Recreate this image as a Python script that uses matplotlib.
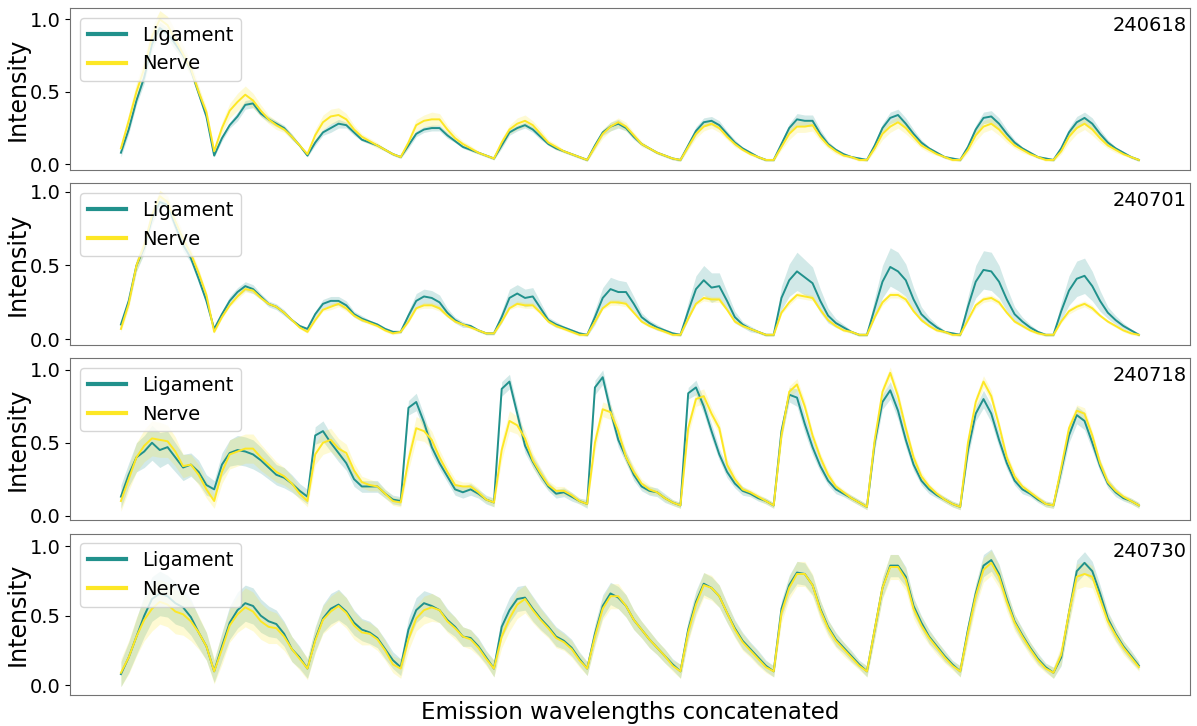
import numpy as np
import matplotlib.pyplot as plt
from matplotlib.lines import Line2D

# one row per excitation block, 12 emission samples each
samples = ["240618", "240701", "240718", "240730"]

lig_240618 = [
    [0.08, 0.24, 0.44, 0.60, 0.83, 0.94, 0.90, 0.83, 0.75, 0.65, 0.49, 0.33],
    [0.06, 0.18, 0.27, 0.33, 0.41, 0.42, 0.35, 0.31, 0.28, 0.25, 0.19, 0.13],
    [0.06, 0.15, 0.22, 0.25, 0.28, 0.27, 0.22, 0.17, 0.15, 0.13, 0.10, 0.07],
    [0.05, 0.13, 0.21, 0.24, 0.25, 0.25, 0.20, 0.16, 0.12, 0.10, 0.08, 0.06],
    [0.04, 0.13, 0.22, 0.25, 0.27, 0.24, 0.19, 0.14, 0.11, 0.09, 0.07, 0.05],
    [0.03, 0.13, 0.22, 0.26, 0.28, 0.25, 0.19, 0.14, 0.11, 0.08, 0.06, 0.04],
    [0.03, 0.13, 0.23, 0.29, 0.30, 0.27, 0.21, 0.15, 0.11, 0.08, 0.05, 0.03],
    [0.03, 0.14, 0.25, 0.31, 0.30, 0.30, 0.21, 0.14, 0.10, 0.07, 0.05, 0.04],
    [0.03, 0.13, 0.25, 0.32, 0.34, 0.28, 0.21, 0.15, 0.11, 0.08, 0.05, 0.04],
    [0.03, 0.12, 0.24, 0.32, 0.33, 0.28, 0.21, 0.15, 0.11, 0.08, 0.05, 0.04],
    [0.03, 0.11, 0.22, 0.29, 0.32, 0.28, 0.21, 0.15, 0.11, 0.08, 0.05, 0.03],
]
nerve_240618 = [
    [0.11, 0.30, 0.50, 0.66, 0.88, 1.00, 0.96, 0.86, 0.76, 0.66, 0.50, 0.36],
    [0.09, 0.25, 0.37, 0.43, 0.48, 0.44, 0.37, 0.31, 0.27, 0.24, 0.19, 0.13],
    [0.07, 0.20, 0.29, 0.33, 0.34, 0.31, 0.24, 0.19, 0.16, 0.13, 0.10, 0.07],
    [0.05, 0.15, 0.27, 0.30, 0.31, 0.31, 0.24, 0.18, 0.14, 0.11, 0.08, 0.06],
    [0.04, 0.15, 0.24, 0.28, 0.30, 0.27, 0.21, 0.15, 0.12, 0.09, 0.07, 0.05],
    [0.03, 0.12, 0.21, 0.26, 0.29, 0.26, 0.20, 0.14, 0.11, 0.08, 0.06, 0.04],
    [0.03, 0.12, 0.21, 0.26, 0.28, 0.25, 0.19, 0.14, 0.10, 0.07, 0.05, 0.03],
    [0.03, 0.12, 0.21, 0.26, 0.26, 0.27, 0.19, 0.13, 0.09, 0.06, 0.05, 0.03],
    [0.03, 0.11, 0.21, 0.26, 0.29, 0.25, 0.19, 0.13, 0.10, 0.07, 0.05, 0.03],
    [0.03, 0.10, 0.20, 0.26, 0.28, 0.24, 0.18, 0.13, 0.10, 0.07, 0.05, 0.03],
    [0.03, 0.09, 0.19, 0.25, 0.28, 0.24, 0.18, 0.13, 0.10, 0.07, 0.05, 0.03],
]
lig_sd_240618 = [
    [0.03, 0.03, 0.03, 0.04, 0.04, 0.04, 0.04, 0.04, 0.03, 0.03, 0.03, 0.03],
    [0.01, 0.02, 0.02, 0.03, 0.03, 0.03, 0.02, 0.02, 0.02, 0.02, 0.02, 0.01],
    [0.01, 0.02, 0.02, 0.03, 0.03, 0.02, 0.02, 0.01, 0.01, 0.01, 0.01, 0.01],
    [0.01, 0.02, 0.02, 0.02, 0.02, 0.02, 0.02, 0.01, 0.01, 0.01, 0.01, 0.01],
    [0.01, 0.02, 0.02, 0.02, 0.02, 0.02, 0.02, 0.01, 0.01, 0.01, 0.01, 0.01],
    [0.01, 0.02, 0.02, 0.03, 0.03, 0.02, 0.02, 0.01, 0.01, 0.01, 0.01, 0.01],
    [0.01, 0.02, 0.03, 0.03, 0.03, 0.03, 0.02, 0.02, 0.01, 0.01, 0.01, 0.01],
    [0.01, 0.02, 0.03, 0.04, 0.04, 0.04, 0.03, 0.02, 0.01, 0.01, 0.01, 0.01],
    [0.01, 0.02, 0.03, 0.04, 0.04, 0.04, 0.03, 0.02, 0.01, 0.01, 0.01, 0.01],
    [0.01, 0.02, 0.03, 0.04, 0.04, 0.04, 0.03, 0.02, 0.01, 0.01, 0.01, 0.01],
    [0.01, 0.02, 0.03, 0.04, 0.04, 0.04, 0.03, 0.02, 0.01, 0.01, 0.01, 0.01],
]
nerve_sd_240618 = [
    [0.03, 0.05, 0.06, 0.07, 0.07, 0.06, 0.06, 0.06, 0.06, 0.05, 0.04, 0.03],
    [0.02, 0.04, 0.05, 0.06, 0.06, 0.05, 0.04, 0.03, 0.03, 0.02, 0.02, 0.01],
    [0.01, 0.04, 0.05, 0.05, 0.05, 0.04, 0.03, 0.02, 0.02, 0.02, 0.01, 0.01],
    [0.01, 0.03, 0.04, 0.04, 0.05, 0.04, 0.03, 0.03, 0.02, 0.02, 0.01, 0.01],
    [0.01, 0.03, 0.03, 0.04, 0.04, 0.03, 0.03, 0.02, 0.02, 0.01, 0.01, 0.01],
    [0.01, 0.02, 0.03, 0.03, 0.03, 0.03, 0.02, 0.02, 0.01, 0.01, 0.01, 0.01],
    [0.01, 0.02, 0.03, 0.03, 0.03, 0.03, 0.02, 0.02, 0.01, 0.01, 0.01, 0.01],
    [0.01, 0.02, 0.04, 0.04, 0.04, 0.04, 0.03, 0.02, 0.02, 0.01, 0.01, 0.01],
    [0.01, 0.02, 0.04, 0.04, 0.04, 0.04, 0.03, 0.02, 0.02, 0.01, 0.01, 0.01],
    [0.01, 0.02, 0.04, 0.04, 0.04, 0.04, 0.03, 0.02, 0.02, 0.01, 0.01, 0.01],
    [0.01, 0.02, 0.04, 0.04, 0.04, 0.04, 0.03, 0.02, 0.02, 0.01, 0.01, 0.01],
]

lig_240701 = [
    [0.10, 0.26, 0.50, 0.62, 0.82, 0.93, 0.91, 0.77, 0.64, 0.55, 0.41, 0.26],
    [0.07, 0.17, 0.26, 0.32, 0.36, 0.34, 0.29, 0.24, 0.22, 0.18, 0.13, 0.09],
    [0.07, 0.17, 0.24, 0.26, 0.26, 0.23, 0.17, 0.14, 0.12, 0.10, 0.07, 0.05],
    [0.05, 0.16, 0.26, 0.29, 0.28, 0.25, 0.18, 0.13, 0.10, 0.09, 0.06, 0.04],
    [0.04, 0.15, 0.28, 0.31, 0.28, 0.29, 0.21, 0.13, 0.10, 0.08, 0.06, 0.04],
    [0.03, 0.15, 0.28, 0.34, 0.32, 0.32, 0.24, 0.15, 0.11, 0.08, 0.06, 0.04],
    [0.03, 0.19, 0.34, 0.40, 0.35, 0.36, 0.26, 0.15, 0.10, 0.07, 0.05, 0.03],
    [0.03, 0.28, 0.40, 0.46, 0.42, 0.38, 0.26, 0.16, 0.11, 0.08, 0.05, 0.03],
    [0.03, 0.21, 0.39, 0.49, 0.46, 0.40, 0.27, 0.17, 0.12, 0.08, 0.05, 0.04],
    [0.03, 0.22, 0.39, 0.47, 0.46, 0.39, 0.27, 0.17, 0.12, 0.08, 0.05, 0.03],
    [0.03, 0.19, 0.33, 0.41, 0.43, 0.36, 0.26, 0.18, 0.13, 0.09, 0.06, 0.03],
]
nerve_240701 = [
    [0.07, 0.24, 0.50, 0.64, 0.84, 0.97, 0.93, 0.80, 0.68, 0.58, 0.45, 0.30],
    [0.05, 0.15, 0.23, 0.29, 0.34, 0.33, 0.28, 0.24, 0.22, 0.18, 0.13, 0.08],
    [0.05, 0.13, 0.20, 0.22, 0.24, 0.21, 0.16, 0.13, 0.11, 0.09, 0.06, 0.04],
    [0.05, 0.12, 0.21, 0.23, 0.23, 0.21, 0.16, 0.12, 0.10, 0.08, 0.06, 0.04],
    [0.04, 0.12, 0.21, 0.24, 0.23, 0.23, 0.18, 0.12, 0.09, 0.07, 0.05, 0.03],
    [0.03, 0.12, 0.21, 0.25, 0.25, 0.24, 0.18, 0.12, 0.09, 0.07, 0.05, 0.03],
    [0.03, 0.14, 0.24, 0.28, 0.27, 0.27, 0.20, 0.12, 0.09, 0.07, 0.05, 0.03],
    [0.03, 0.18, 0.25, 0.30, 0.29, 0.28, 0.20, 0.13, 0.09, 0.06, 0.05, 0.03],
    [0.03, 0.15, 0.25, 0.30, 0.30, 0.27, 0.19, 0.13, 0.09, 0.06, 0.05, 0.03],
    [0.03, 0.13, 0.23, 0.27, 0.28, 0.25, 0.18, 0.12, 0.09, 0.06, 0.04, 0.03],
    [0.03, 0.12, 0.19, 0.22, 0.24, 0.21, 0.16, 0.12, 0.09, 0.06, 0.04, 0.03],
]
lig_sd_240701 = [
    [0.02, 0.03, 0.04, 0.04, 0.04, 0.03, 0.04, 0.04, 0.04, 0.03, 0.03, 0.02],
    [0.01, 0.02, 0.03, 0.03, 0.03, 0.03, 0.02, 0.02, 0.02, 0.02, 0.01, 0.01],
    [0.01, 0.02, 0.03, 0.03, 0.03, 0.03, 0.02, 0.02, 0.01, 0.01, 0.01, 0.01],
    [0.01, 0.03, 0.05, 0.05, 0.05, 0.05, 0.03, 0.02, 0.02, 0.01, 0.01, 0.01],
    [0.01, 0.04, 0.06, 0.06, 0.06, 0.06, 0.04, 0.02, 0.02, 0.01, 0.01, 0.01],
    [0.01, 0.05, 0.07, 0.08, 0.08, 0.07, 0.05, 0.03, 0.02, 0.02, 0.01, 0.01],
    [0.01, 0.06, 0.09, 0.10, 0.10, 0.09, 0.06, 0.04, 0.02, 0.02, 0.01, 0.01],
    [0.01, 0.08, 0.11, 0.13, 0.12, 0.11, 0.08, 0.05, 0.03, 0.02, 0.01, 0.01],
    [0.01, 0.07, 0.11, 0.13, 0.13, 0.11, 0.08, 0.05, 0.03, 0.02, 0.01, 0.01],
    [0.01, 0.07, 0.11, 0.13, 0.13, 0.11, 0.08, 0.05, 0.03, 0.02, 0.01, 0.01],
    [0.01, 0.06, 0.10, 0.12, 0.12, 0.10, 0.07, 0.04, 0.03, 0.02, 0.01, 0.01],
]
nerve_sd_240701 = [
    [0.02, 0.03, 0.04, 0.04, 0.04, 0.04, 0.04, 0.04, 0.04, 0.03, 0.03, 0.02],
    [0.01, 0.01, 0.01, 0.02, 0.02, 0.02, 0.01, 0.01, 0.01, 0.01, 0.01, 0.01],
    [0.01, 0.01, 0.01, 0.02, 0.02, 0.02, 0.01, 0.01, 0.01, 0.01, 0.01, 0.01],
    [0.01, 0.01, 0.01, 0.02, 0.02, 0.02, 0.01, 0.01, 0.01, 0.01, 0.01, 0.01],
    [0.01, 0.01, 0.01, 0.02, 0.02, 0.02, 0.01, 0.01, 0.01, 0.01, 0.01, 0.01],
    [0.01, 0.01, 0.01, 0.02, 0.02, 0.02, 0.01, 0.01, 0.01, 0.01, 0.01, 0.01],
    [0.01, 0.01, 0.01, 0.02, 0.02, 0.02, 0.01, 0.01, 0.01, 0.01, 0.01, 0.01],
    [0.01, 0.01, 0.02, 0.02, 0.02, 0.02, 0.01, 0.01, 0.01, 0.01, 0.01, 0.01],
    [0.01, 0.01, 0.02, 0.02, 0.02, 0.02, 0.01, 0.01, 0.01, 0.01, 0.01, 0.01],
    [0.01, 0.01, 0.02, 0.02, 0.02, 0.02, 0.01, 0.01, 0.01, 0.01, 0.01, 0.01],
    [0.01, 0.01, 0.02, 0.02, 0.02, 0.02, 0.01, 0.01, 0.01, 0.01, 0.01, 0.01],
]

lig_240718 = [
    [0.13, 0.28, 0.40, 0.44, 0.50, 0.45, 0.47, 0.40, 0.33, 0.35, 0.30, 0.21],
    [0.18, 0.35, 0.43, 0.45, 0.44, 0.42, 0.38, 0.33, 0.28, 0.26, 0.22, 0.17],
    [0.13, 0.55, 0.58, 0.50, 0.43, 0.36, 0.25, 0.20, 0.20, 0.20, 0.15, 0.11],
    [0.10, 0.74, 0.78, 0.64, 0.47, 0.36, 0.27, 0.18, 0.16, 0.18, 0.15, 0.11],
    [0.09, 0.87, 0.92, 0.70, 0.48, 0.37, 0.28, 0.20, 0.15, 0.16, 0.13, 0.10],
    [0.08, 0.88, 0.95, 0.72, 0.52, 0.40, 0.28, 0.20, 0.17, 0.16, 0.12, 0.09],
    [0.07, 0.84, 0.88, 0.75, 0.58, 0.42, 0.30, 0.22, 0.17, 0.15, 0.12, 0.10],
    [0.07, 0.58, 0.83, 0.81, 0.63, 0.47, 0.34, 0.24, 0.18, 0.15, 0.12, 0.09],
    [0.06, 0.50, 0.78, 0.86, 0.72, 0.52, 0.35, 0.24, 0.18, 0.14, 0.11, 0.08],
    [0.06, 0.45, 0.70, 0.80, 0.70, 0.52, 0.36, 0.24, 0.18, 0.15, 0.11, 0.08],
    [0.07, 0.31, 0.55, 0.69, 0.65, 0.50, 0.34, 0.22, 0.16, 0.12, 0.10, 0.07],
]
nerve_240718 = [
    [0.10, 0.25, 0.40, 0.48, 0.53, 0.52, 0.51, 0.44, 0.34, 0.35, 0.28, 0.18],
    [0.10, 0.30, 0.42, 0.44, 0.46, 0.46, 0.40, 0.35, 0.30, 0.27, 0.22, 0.15],
    [0.10, 0.42, 0.50, 0.52, 0.46, 0.43, 0.31, 0.23, 0.21, 0.20, 0.15, 0.10],
    [0.09, 0.38, 0.60, 0.58, 0.52, 0.40, 0.30, 0.21, 0.20, 0.20, 0.16, 0.11],
    [0.09, 0.45, 0.65, 0.62, 0.53, 0.38, 0.29, 0.21, 0.17, 0.17, 0.14, 0.10],
    [0.08, 0.50, 0.73, 0.71, 0.58, 0.40, 0.30, 0.22, 0.18, 0.16, 0.12, 0.09],
    [0.07, 0.60, 0.80, 0.82, 0.70, 0.60, 0.35, 0.25, 0.18, 0.16, 0.13, 0.10],
    [0.07, 0.55, 0.85, 0.90, 0.75, 0.55, 0.40, 0.28, 0.20, 0.16, 0.12, 0.09],
    [0.06, 0.52, 0.85, 0.98, 0.82, 0.60, 0.40, 0.27, 0.20, 0.15, 0.11, 0.08],
    [0.06, 0.50, 0.78, 0.92, 0.82, 0.62, 0.40, 0.27, 0.20, 0.16, 0.12, 0.08],
    [0.07, 0.33, 0.60, 0.72, 0.70, 0.55, 0.36, 0.23, 0.17, 0.13, 0.10, 0.07],
]
lig_sd_240718 = [
    [0.08, 0.08, 0.10, 0.11, 0.12, 0.12, 0.11, 0.10, 0.09, 0.08, 0.08, 0.07],
    [0.06, 0.08, 0.09, 0.10, 0.10, 0.10, 0.09, 0.08, 0.07, 0.07, 0.06, 0.05],
    [0.05, 0.06, 0.07, 0.06, 0.06, 0.05, 0.05, 0.04, 0.04, 0.04, 0.03, 0.03],
    [0.03, 0.05, 0.06, 0.05, 0.05, 0.04, 0.04, 0.04, 0.04, 0.04, 0.03, 0.03],
    [0.03, 0.05, 0.05, 0.05, 0.05, 0.04, 0.04, 0.03, 0.03, 0.03, 0.03, 0.02],
    [0.03, 0.05, 0.05, 0.05, 0.05, 0.04, 0.04, 0.03, 0.03, 0.03, 0.03, 0.02],
    [0.02, 0.04, 0.05, 0.05, 0.05, 0.04, 0.04, 0.03, 0.03, 0.02, 0.02, 0.02],
    [0.02, 0.05, 0.05, 0.06, 0.06, 0.05, 0.04, 0.03, 0.03, 0.02, 0.02, 0.02],
    [0.02, 0.05, 0.05, 0.06, 0.06, 0.05, 0.04, 0.03, 0.03, 0.02, 0.02, 0.02],
    [0.02, 0.05, 0.05, 0.06, 0.06, 0.05, 0.04, 0.03, 0.03, 0.02, 0.02, 0.02],
    [0.02, 0.05, 0.05, 0.06, 0.06, 0.05, 0.04, 0.03, 0.03, 0.02, 0.02, 0.02],
]
nerve_sd_240718 = [
    [0.07, 0.08, 0.10, 0.11, 0.12, 0.12, 0.11, 0.10, 0.08, 0.07, 0.07, 0.06],
    [0.05, 0.08, 0.10, 0.10, 0.10, 0.10, 0.09, 0.08, 0.07, 0.06, 0.05, 0.04],
    [0.04, 0.07, 0.08, 0.08, 0.07, 0.06, 0.05, 0.04, 0.04, 0.03, 0.03, 0.03],
    [0.03, 0.07, 0.08, 0.07, 0.06, 0.05, 0.04, 0.04, 0.03, 0.03, 0.03, 0.02],
    [0.03, 0.07, 0.07, 0.06, 0.05, 0.05, 0.04, 0.03, 0.03, 0.03, 0.02, 0.02],
    [0.02, 0.06, 0.05, 0.05, 0.05, 0.04, 0.04, 0.03, 0.03, 0.02, 0.02, 0.02],
    [0.02, 0.05, 0.05, 0.05, 0.04, 0.04, 0.04, 0.03, 0.02, 0.02, 0.02, 0.02],
    [0.02, 0.04, 0.04, 0.04, 0.04, 0.03, 0.03, 0.03, 0.02, 0.02, 0.02, 0.02],
    [0.02, 0.04, 0.04, 0.04, 0.04, 0.03, 0.03, 0.03, 0.02, 0.02, 0.02, 0.02],
    [0.02, 0.04, 0.04, 0.04, 0.04, 0.03, 0.03, 0.03, 0.02, 0.02, 0.02, 0.02],
    [0.02, 0.04, 0.04, 0.04, 0.04, 0.03, 0.03, 0.03, 0.02, 0.02, 0.02, 0.02],
]

lig_240730 = [
    [0.08, 0.20, 0.35, 0.50, 0.62, 0.66, 0.64, 0.59, 0.56, 0.49, 0.38, 0.28],
    [0.10, 0.28, 0.45, 0.54, 0.59, 0.57, 0.50, 0.46, 0.44, 0.37, 0.26, 0.20],
    [0.12, 0.33, 0.48, 0.55, 0.58, 0.53, 0.45, 0.40, 0.38, 0.34, 0.26, 0.18],
    [0.13, 0.40, 0.54, 0.59, 0.57, 0.54, 0.47, 0.42, 0.35, 0.34, 0.28, 0.20],
    [0.12, 0.42, 0.54, 0.62, 0.63, 0.55, 0.48, 0.42, 0.35, 0.32, 0.27, 0.19],
    [0.12, 0.37, 0.57, 0.66, 0.63, 0.57, 0.47, 0.40, 0.33, 0.27, 0.21, 0.15],
    [0.10, 0.40, 0.60, 0.73, 0.70, 0.64, 0.52, 0.41, 0.32, 0.26, 0.20, 0.14],
    [0.10, 0.55, 0.72, 0.81, 0.80, 0.72, 0.55, 0.42, 0.33, 0.27, 0.21, 0.15],
    [0.10, 0.40, 0.70, 0.86, 0.86, 0.78, 0.57, 0.45, 0.35, 0.28, 0.21, 0.15],
    [0.10, 0.40, 0.66, 0.86, 0.90, 0.80, 0.62, 0.46, 0.36, 0.27, 0.19, 0.13],
    [0.09, 0.20, 0.52, 0.82, 0.88, 0.82, 0.66, 0.48, 0.37, 0.28, 0.21, 0.14],
]
nerve_240730 = [
    [0.09, 0.20, 0.35, 0.47, 0.55, 0.60, 0.58, 0.53, 0.51, 0.46, 0.38, 0.28],
    [0.10, 0.26, 0.43, 0.51, 0.56, 0.53, 0.46, 0.42, 0.41, 0.35, 0.26, 0.19],
    [0.12, 0.32, 0.47, 0.53, 0.57, 0.52, 0.43, 0.38, 0.37, 0.33, 0.25, 0.15],
    [0.12, 0.33, 0.48, 0.54, 0.56, 0.54, 0.46, 0.41, 0.35, 0.33, 0.27, 0.19],
    [0.12, 0.35, 0.48, 0.58, 0.62, 0.54, 0.47, 0.41, 0.34, 0.31, 0.26, 0.18],
    [0.12, 0.35, 0.55, 0.64, 0.64, 0.57, 0.47, 0.40, 0.33, 0.27, 0.21, 0.14],
    [0.10, 0.38, 0.58, 0.72, 0.70, 0.64, 0.52, 0.40, 0.31, 0.25, 0.19, 0.13],
    [0.10, 0.52, 0.70, 0.80, 0.80, 0.72, 0.54, 0.41, 0.32, 0.26, 0.20, 0.14],
    [0.10, 0.40, 0.70, 0.85, 0.85, 0.76, 0.55, 0.43, 0.34, 0.27, 0.20, 0.14],
    [0.10, 0.38, 0.64, 0.83, 0.88, 0.78, 0.60, 0.45, 0.35, 0.26, 0.18, 0.12],
    [0.09, 0.22, 0.52, 0.78, 0.80, 0.78, 0.62, 0.46, 0.36, 0.27, 0.20, 0.13],
]
lig_sd_240730 = [
    [0.09, 0.11, 0.13, 0.15, 0.16, 0.16, 0.15, 0.15, 0.14, 0.13, 0.11, 0.10],
    [0.08, 0.10, 0.12, 0.13, 0.13, 0.13, 0.12, 0.11, 0.10, 0.09, 0.09, 0.08],
    [0.07, 0.09, 0.10, 0.11, 0.11, 0.10, 0.09, 0.08, 0.08, 0.07, 0.07, 0.06],
    [0.06, 0.08, 0.09, 0.09, 0.09, 0.09, 0.08, 0.07, 0.07, 0.06, 0.06, 0.05],
    [0.06, 0.08, 0.09, 0.09, 0.09, 0.09, 0.08, 0.07, 0.07, 0.06, 0.06, 0.05],
    [0.05, 0.07, 0.08, 0.08, 0.08, 0.08, 0.07, 0.06, 0.06, 0.05, 0.05, 0.04],
    [0.05, 0.07, 0.08, 0.08, 0.08, 0.08, 0.07, 0.06, 0.06, 0.05, 0.05, 0.04],
    [0.04, 0.06, 0.07, 0.08, 0.08, 0.07, 0.06, 0.05, 0.05, 0.04, 0.04, 0.03],
    [0.04, 0.06, 0.07, 0.08, 0.08, 0.07, 0.06, 0.05, 0.05, 0.04, 0.04, 0.03],
    [0.04, 0.06, 0.07, 0.08, 0.08, 0.07, 0.06, 0.05, 0.05, 0.04, 0.04, 0.03],
    [0.04, 0.06, 0.07, 0.08, 0.08, 0.07, 0.06, 0.05, 0.05, 0.04, 0.04, 0.03],
]
nerve_sd_240730 = [
    [0.10, 0.12, 0.14, 0.15, 0.16, 0.16, 0.16, 0.16, 0.15, 0.14, 0.12, 0.10],
    [0.09, 0.11, 0.12, 0.13, 0.14, 0.14, 0.13, 0.12, 0.11, 0.10, 0.09, 0.08],
    [0.08, 0.09, 0.10, 0.11, 0.11, 0.11, 0.10, 0.09, 0.08, 0.08, 0.07, 0.06],
    [0.07, 0.08, 0.09, 0.10, 0.10, 0.09, 0.08, 0.08, 0.07, 0.07, 0.06, 0.05],
    [0.06, 0.08, 0.09, 0.10, 0.10, 0.09, 0.08, 0.07, 0.07, 0.06, 0.06, 0.05],
    [0.05, 0.07, 0.08, 0.09, 0.09, 0.08, 0.07, 0.06, 0.06, 0.05, 0.05, 0.04],
    [0.05, 0.07, 0.08, 0.09, 0.09, 0.08, 0.07, 0.06, 0.06, 0.05, 0.05, 0.04],
    [0.04, 0.07, 0.08, 0.09, 0.09, 0.08, 0.07, 0.06, 0.05, 0.05, 0.04, 0.03],
    [0.04, 0.07, 0.08, 0.09, 0.09, 0.08, 0.07, 0.06, 0.05, 0.05, 0.04, 0.03],
    [0.04, 0.07, 0.08, 0.09, 0.09, 0.08, 0.07, 0.06, 0.05, 0.05, 0.04, 0.03],
    [0.04, 0.07, 0.08, 0.09, 0.09, 0.08, 0.07, 0.06, 0.05, 0.05, 0.04, 0.03],
]

ligament = [lig_240618, lig_240701, lig_240718, lig_240730]
nerve = [nerve_240618, nerve_240701, nerve_240718, nerve_240730]
ligament_sd = [lig_sd_240618, lig_sd_240701, lig_sd_240718, lig_sd_240730]
nerve_sd = [nerve_sd_240618, nerve_sd_240701, nerve_sd_240718, nerve_sd_240730]

ylims = [(-0.037, 1.076), (-0.037, 1.057), (-0.028, 1.08), (-0.07, 1.09)]

c_lig = '#21918c'
c_nerve = '#fde725'


def flat(blocks):
    return np.concatenate([np.asarray(b, dtype=float) for b in blocks])


fig = plt.figure(figsize=(11.97, 7.26), dpi=100)

# axes rectangles measured off the target layout (figure fractions)
left, width = 0.0585, 0.9355
bottoms = [0.7663, 0.5252, 0.2842, 0.0427]
height = 0.2223

for i, name in enumerate(samples):
    ax = fig.add_axes([left, bottoms[i], width, height])

    m_l = flat(ligament[i])
    m_n = flat(nerve[i])
    s_l = flat(ligament_sd[i])
    s_n = flat(nerve_sd[i])
    x = np.arange(len(m_l))

    ax.plot(x, m_l, color=c_lig, lw=1.4)
    ax.fill_between(x, m_l - s_l, m_l + s_l, color=c_lig, alpha=0.2, lw=0)
    ax.plot(x, m_n, color=c_nerve, lw=1.4)
    ax.fill_between(x, m_n - s_n, m_n + s_n, color=c_nerve, alpha=0.2, lw=0)

    ax.set_ylim(*ylims[i])
    ax.set_xticks([])
    ax.set_yticks([0.0, 0.5, 1.0])
    ax.tick_params(axis='y', labelsize=14)
    ax.set_ylabel('Intensity', fontsize=17, labelpad=0)
    for sp in ax.spines.values():
        sp.set_color('0.45')

    handles = [Line2D([0], [0], color=c_lig, lw=3),
               Line2D([0], [0], color=c_nerve, lw=3)]
    ax.legend(handles, ['Ligament', 'Nerve'], loc='upper left', fontsize=14)
    ax.text(0.997, 0.95, name, transform=ax.transAxes, ha='right', va='top',
            fontsize=14)

    if i == len(samples) - 1:
        ax.set_xlabel('Emission wavelengths concatenated', fontsize=16.5)

fig.savefig('out.png', dpi=100)
